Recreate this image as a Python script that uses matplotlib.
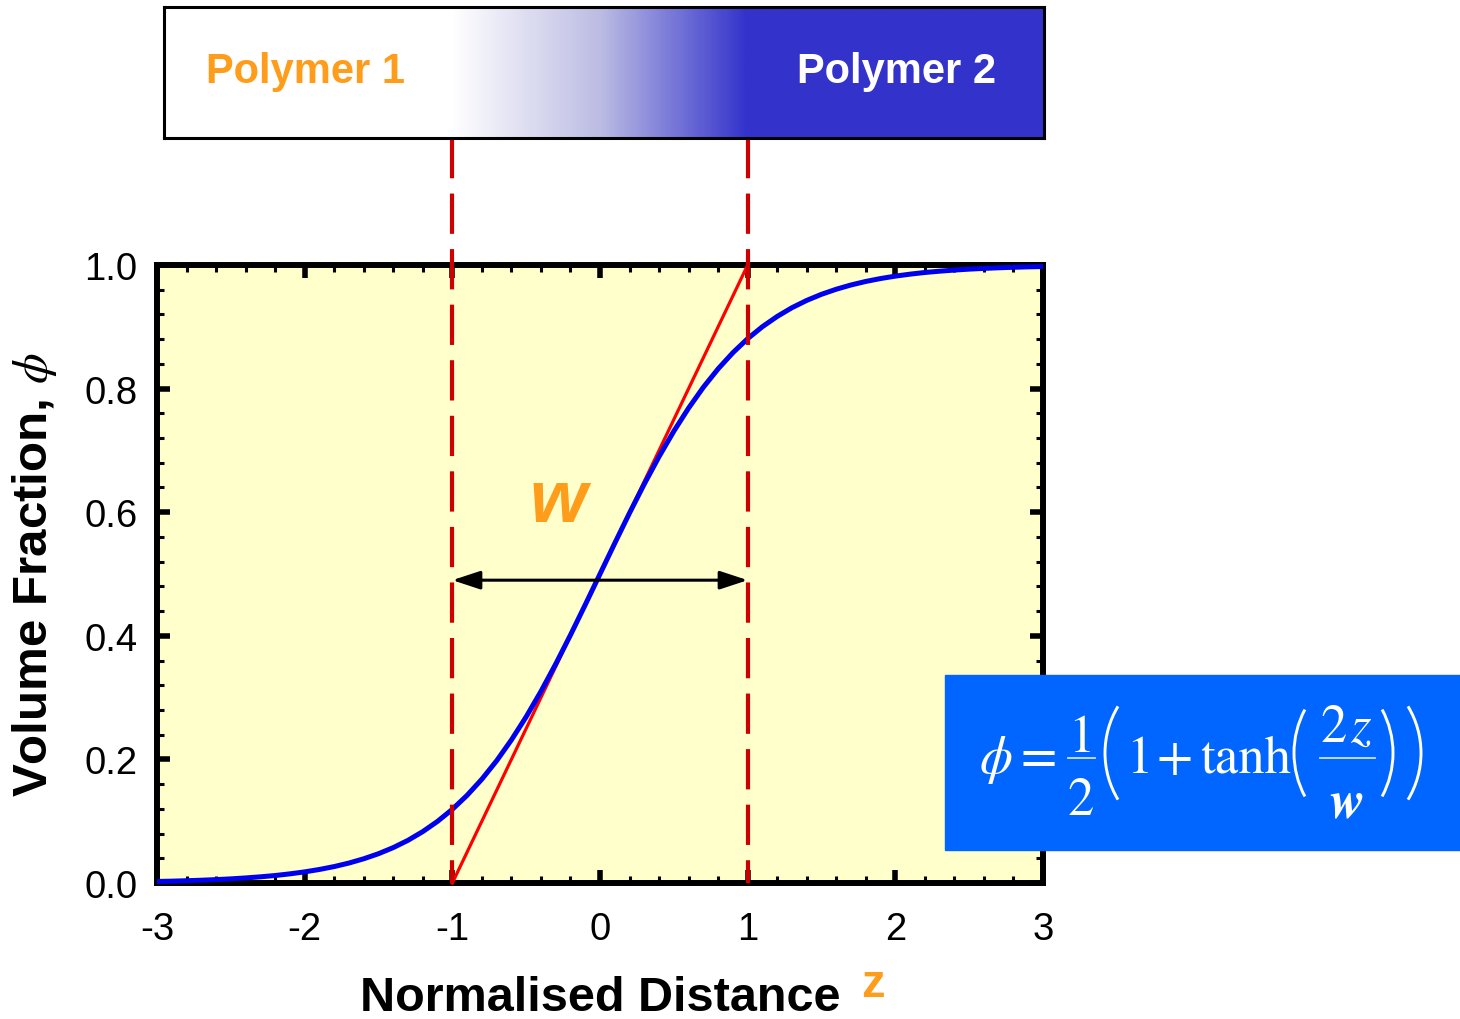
"""
Interface profile between two immiscible polymers.

phi(z) = 1/2 (1 + tanh(2z / w)), plotted against the normalised distance z,
with the linear "width" construction and a colour bar sketch of the two phases.
"""

import matplotlib

matplotlib.use("Agg")

import numpy as np
import matplotlib.pyplot as plt
from matplotlib.colors import LinearSegmentedColormap
from matplotlib.lines import Line2D
from matplotlib.patches import Arc, FancyArrowPatch, Rectangle
from matplotlib.ticker import FormatStrFormatter, MultipleLocator

# ---- Data ----
z_values = [
    -3.0, -2.9, -2.8, -2.7, -2.6, -2.5, -2.4, -2.3, -2.2, -2.1, -2.0,
    -1.9, -1.8, -1.7, -1.6, -1.5, -1.4, -1.3, -1.2, -1.1, -1.0,
    -0.9, -0.8, -0.7, -0.6, -0.5, -0.4, -0.3, -0.2, -0.1, 0.0,
    0.1, 0.2, 0.3, 0.4, 0.5, 0.6, 0.7, 0.8, 0.9, 1.0,
    1.1, 1.2, 1.3, 1.4, 1.5, 1.6, 1.7, 1.8, 1.9, 2.0,
    2.1, 2.2, 2.3, 2.4, 2.5, 2.6, 2.7, 2.8, 2.9, 3.0,
]
phi_values = [
    0.0025, 0.0030, 0.0037, 0.0045, 0.0055, 0.0067, 0.0082, 0.0100, 0.0121, 0.0148, 0.0180,
    0.0219, 0.0266, 0.0323, 0.0392, 0.0474, 0.0573, 0.0691, 0.0832, 0.0998, 0.1192,
    0.1419, 0.1680, 0.1978, 0.2315, 0.2689, 0.3100, 0.3543, 0.4013, 0.4502, 0.5000,
    0.5498, 0.5987, 0.6457, 0.6900, 0.7311, 0.7685, 0.8022, 0.8320, 0.8581, 0.8808,
    0.9002, 0.9168, 0.9309, 0.9427, 0.9526, 0.9608, 0.9677, 0.9734, 0.9781, 0.9820,
    0.9852, 0.9879, 0.9900, 0.9918, 0.9933, 0.9945, 0.9955, 0.9963, 0.9970, 0.9975,
]

# Straight-line construction that defines w
tangent_z = [-1.0, 1.0]
tangent_phi = [0.0, 1.0]
edge_positions = [-1.0, 1.0]
arrow_level = 0.49

x_ticks = [-3, -2, -1, 0, 1, 2, 3]
y_ticks = [0.0, 0.2, 0.4, 0.6, 0.8, 1.0]

ORANGE = "#FF9C1A"
DARK_RED = "#CC0000"
PHASE_BLUE = "#3333CC"
EQ_BLUE = "#0066FF"

W, H = 1460, 1020


def fig_rect(left, top, right, bottom):
    """Pixel box -> figure fraction [left, bottom, width, height]."""
    return [left / W, 1 - bottom / H, (right - left) / W, (bottom - top) / H]


def px(x, y):
    return x / W, 1 - y / H


def eq_text(fig, x, y, s, size=38, **kw):
    fx, fy = px(x, y)
    fig.text(fx, fy, s, color="white", fontsize=size, family="STIXGeneral",
             ha="center", va="baseline", zorder=4, **kw)


def eq_rule(fig, x0, x1, y):
    fx0, fy = px(x0, y)
    fx1, _ = px(x1, y)
    fig.lines.append(Line2D([fx0, fx1], [fy, fy], transform=fig.transFigure,
                            color="white", alpha=0.8, lw=1.3, zorder=4))


def eq_paren(fig, x_left, x_right, y_top, y_bottom, opening=True):
    # circular arc spanning the paren height with the given bulge
    chord = y_bottom - y_top
    bulge = x_right - x_left
    radius = (chord ** 2 / 4 + bulge ** 2) / (2 * bulge)
    half_angle = np.degrees(np.arcsin(chord / 2 / radius))
    y_mid = (y_top + y_bottom) / 2
    if opening:
        cx, theta1, theta2 = x_left + radius, 180 - half_angle, 180 + half_angle
    else:
        cx, theta1, theta2 = x_right - radius, -half_angle, half_angle
    fig.patches.append(Arc(px(cx, y_mid), 2 * radius / W, 2 * radius / H,
                           theta1=theta1, theta2=theta2,
                           transform=fig.transFigure, color="white",
                           lw=2.1, zorder=4))


def draw_equation(fig):
    box = fig_rect(945, 676, 1460, 851)
    fig.patches.append(Rectangle((box[0], box[1]), box[2], box[3],
                                 transform=fig.transFigure, color=EQ_BLUE,
                                 zorder=3))
    eq_text(fig, 996, 773, "\u03d5", style="italic")
    eq_text(fig, 1039, 773, "=")
    eq_text(fig, 1081, 752, "1")
    eq_rule(fig, 1068, 1095, 759)
    eq_text(fig, 1081, 815, "2")
    eq_paren(fig, 1105, 1127, 695, 813, opening=True)
    eq_text(fig, 1139, 773, "1")
    eq_text(fig, 1175, 773, "+")
    eq_text(fig, 1246, 773, "tanh")
    eq_paren(fig, 1294, 1313, 698, 810, opening=True)
    eq_text(fig, 1334, 742, "2")
    eq_text(fig, 1360, 742, "z", style="italic")
    eq_rule(fig, 1320, 1375, 759)
    eq_text(fig, 1347, 817, "w", style="italic", weight="bold")
    eq_paren(fig, 1374, 1393, 698, 810, opening=False)
    eq_paren(fig, 1399, 1421, 695, 813, opening=False)


def main():
    plt.rcParams["font.family"] = ["Liberation Sans", "DejaVu Sans"]
    plt.rcParams["mathtext.fontset"] = "stix"
    plt.rcParams["axes.unicode_minus"] = False
    plt.rcParams["lines.scale_dashes"] = False

    fig = plt.figure(figsize=(W / 100, H / 100), dpi=100)

    # ---- Main axes ----
    ax_pos = fig_rect(157, 266, 1043, 884)
    ax = fig.add_axes(ax_pos)
    ax.set_facecolor("#FFFFCC")
    ax.set_xlim(-3, 3)
    ax.set_ylim(0, 1)

    for spine in ax.spines.values():
        spine.set_linewidth(4.3)

    ax.xaxis.set_minor_locator(MultipleLocator(0.2))
    ax.yaxis.set_minor_locator(MultipleLocator(0.04))
    ax.set_xticks(x_ticks)
    ax.set_yticks(y_ticks)
    ax.xaxis.set_major_formatter(FormatStrFormatter("%d"))
    ax.yaxis.set_major_formatter(FormatStrFormatter("%.1f"))
    ax.tick_params(which="both", direction="in", top=True, right=True)
    ax.tick_params(which="major", length=9.5, width=4, labelsize=27.5)
    ax.tick_params(which="minor", length=5, width=2.2)
    ax.tick_params(axis="x", which="major", pad=20)
    ax.tick_params(axis="y", which="major", pad=14)

    ax.set_xlabel("Normalised Distance", fontsize=35, fontweight="bold", labelpad=20)
    ax.set_ylabel(r"Volume Fraction, $\phi$", fontsize=35.5, fontweight="bold", labelpad=18)
    fig.text(873 / W, 1 - 997 / H, "z", color=ORANGE, fontsize=34,
             fontweight="bold", ha="center", va="baseline")

    # tangent line, then the tanh profile on top
    ax.plot(tangent_z, tangent_phi, color="#FF0000", lw=2.3, zorder=4, clip_on=False)
    ax.plot(z_values, phi_values, color="#0000F0", lw=3.6, zorder=5, clip_on=False,
            solid_capstyle="butt")

    # ---- Phase bar above the plot ----
    bar_left, bar_top, bar_right, bar_bottom = 164, 8, 1044, 139
    bar_ax = fig.add_axes(fig_rect(bar_left, bar_top, bar_right, bar_bottom))
    z_lo = -3 + (bar_left - 157) / (886 / 6)
    z_hi = -3 + (bar_right - 157) / (886 / 6)
    bar_z = np.linspace(z_lo, z_hi, 800).reshape(1, -1)
    phase_cmap = LinearSegmentedColormap.from_list(
        "phase", [(0.0, "#FFFFFF"), (0.5, "#BCBCE4"), (1.0, PHASE_BLUE)]
    )
    bar_ax.imshow(bar_z, cmap=phase_cmap, vmin=-1, vmax=1, aspect="auto",
                  extent=[z_lo, z_hi, 0, 1], interpolation="bilinear")
    bar_ax.set_xlim(z_lo, z_hi)
    bar_ax.set_ylim(0, 1)
    bar_ax.set_xticks([])
    bar_ax.set_yticks([])
    for spine in bar_ax.spines.values():
        spine.set_linewidth(2.2)

    fig.text(305 / W, 1 - 72 / H, "Polymer 1", color=ORANGE, fontsize=30,
             fontweight="bold", ha="center", va="center")
    fig.text(897 / W, 1 - 72 / H, "Polymer 2", color="white", fontsize=30,
             fontweight="bold", ha="center", va="center")

    # dashed guides from the bar down to the axis
    guide_top = (1 - bar_bottom / H - ax_pos[1]) / ax_pos[3]
    for z_edge in edge_positions:
        ax.plot([z_edge, z_edge], [guide_top, 0], color=DARK_RED, lw=3,
                dashes=(29, 11), zorder=6, clip_on=False)

    # width arrow and label
    arrow = FancyArrowPatch(
        (edge_positions[0], arrow_level), (edge_positions[1], arrow_level),
        arrowstyle="<|-|>,head_length=0.85,head_width=0.28",
        mutation_scale=20, color="black", lw=2.2,
        shrinkA=0, shrinkB=0, zorder=7,
    )
    ax.add_patch(arrow)
    ax.text(-0.285, 0.618, "w", color=ORANGE, fontsize=53, fontweight="bold",
            fontstyle="italic", ha="center", va="center", zorder=7)

    # ---- Equation box ----
    draw_equation(fig)

    fig.savefig("out.png", dpi=100)


if __name__ == "__main__":
    main()
